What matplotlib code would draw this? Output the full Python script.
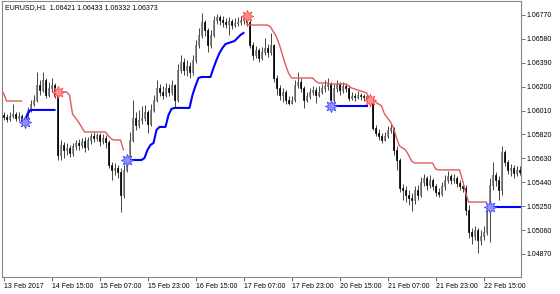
import matplotlib
matplotlib.use('Agg')
import matplotlib.pyplot as plt
import numpy as np

plt.rcParams['font.family'] = ['Liberation Sans', 'DejaVu Sans']

# EURUSD H1 bars, first bar 13 Feb 2017 23:00
first_open = 1.05975
closes = [1.05959, 1.05943, 1.05967, 1.05983, 1.05951, 1.05967, 1.05927, 1.05943, 1.06015, 1.06062,
          1.06094, 1.06214, 1.06174, 1.06253, 1.06134, 1.06190, 1.06214, 1.06134, 1.05657, 1.05737,
          1.05697, 1.05713, 1.05673, 1.05729, 1.05752, 1.05737, 1.05768, 1.05721, 1.05776, 1.05808,
          1.05792, 1.05816, 1.05768, 1.05792, 1.05760, 1.05578, 1.05538, 1.05554, 1.05522, 1.05339,
          1.05538, 1.05617, 1.05776, 1.05951, 1.05896, 1.05935, 1.05951, 1.05999, 1.05903, 1.06015,
          1.06094, 1.06190, 1.06158, 1.06134, 1.06190, 1.06158, 1.06214, 1.06094, 1.06333, 1.06396,
          1.06333, 1.06365, 1.06317, 1.06412, 1.06532, 1.06611, 1.06714, 1.06651, 1.06532, 1.06611,
          1.06730, 1.06754, 1.06730, 1.06714, 1.06698, 1.06722, 1.06690, 1.06706, 1.06714, 1.06730,
          1.06746, 1.06714, 1.06532, 1.06452, 1.06492, 1.06428, 1.06476, 1.06508, 1.06476, 1.06532,
          1.06269, 1.06190, 1.06134, 1.06158, 1.06094, 1.06070, 1.06094, 1.06214, 1.06237, 1.06190,
          1.06094, 1.06126, 1.06158, 1.06174, 1.06134, 1.06158, 1.06190, 1.06206, 1.06221, 1.06094,
          1.06190, 1.06221, 1.06174, 1.06206, 1.06190, 1.06110, 1.06126, 1.06118, 1.06134, 1.06126,
          1.06118, 1.06110, 1.06094, 1.05872, 1.05832, 1.05808, 1.05776, 1.05808, 1.05856, 1.05872,
          1.05697, 1.05617, 1.05395, 1.05379, 1.05339, 1.05315, 1.05299, 1.05379, 1.05339, 1.05442,
          1.05474, 1.05419, 1.05458, 1.05411, 1.05363, 1.05347, 1.05411, 1.05458, 1.05490, 1.05458,
          1.05474, 1.05434, 1.05411, 1.05395, 1.05220, 1.05045, 1.05013, 1.05061, 1.04981, 1.05013,
          1.05045, 1.05220, 1.05419, 1.05498, 1.05458, 1.05379, 1.05681, 1.05601, 1.05538, 1.05554,
          1.05514, 1.05538, 1.05522]
highs = [1.05999, 1.05983, 1.05999, 1.06062, 1.05999, 1.05999, 1.05983, 1.05967, 1.06039, 1.06094,
         1.06134, 1.06317, 1.06253, 1.06317, 1.06269, 1.06237, 1.06269, 1.06229, 1.06158, 1.05776,
         1.05760, 1.05752, 1.05737, 1.05752, 1.05776, 1.05784, 1.05792, 1.05800, 1.05800, 1.05832,
         1.05840, 1.05832, 1.05832, 1.05824, 1.05816, 1.05776, 1.05601, 1.05593, 1.05578, 1.05554,
         1.05578, 1.05657, 1.05840, 1.06094, 1.05999, 1.06015, 1.06047, 1.06055, 1.06015, 1.06062,
         1.06134, 1.06253, 1.06221, 1.06206, 1.06229, 1.06221, 1.06253, 1.06221, 1.06380, 1.06452,
         1.06428, 1.06412, 1.06396, 1.06452, 1.06571, 1.06667, 1.06786, 1.06730, 1.06667, 1.06651,
         1.06762, 1.06778, 1.06770, 1.06762, 1.06746, 1.06754, 1.06738, 1.06746, 1.06754, 1.06762,
         1.06770, 1.06778, 1.06730, 1.06555, 1.06524, 1.06508, 1.06516, 1.06587, 1.06539, 1.06627,
         1.06539, 1.06293, 1.06214, 1.06190, 1.06174, 1.06126, 1.06126, 1.06253, 1.06317, 1.06269,
         1.06206, 1.06158, 1.06190, 1.06206, 1.06198, 1.06206, 1.06221, 1.06253, 1.06269, 1.06237,
         1.06221, 1.06253, 1.06237, 1.06237, 1.06229, 1.06214, 1.06158, 1.06150, 1.06166, 1.06150,
         1.06142, 1.06142, 1.06134, 1.06110, 1.05896, 1.05864, 1.05832, 1.05840, 1.05888, 1.05903,
         1.05880, 1.05729, 1.05633, 1.05426, 1.05411, 1.05379, 1.05355, 1.05411, 1.05419, 1.05482,
         1.05506, 1.05490, 1.05498, 1.05474, 1.05426, 1.05395, 1.05442, 1.05498, 1.05530, 1.05506,
         1.05506, 1.05490, 1.05458, 1.05442, 1.05419, 1.05260, 1.05077, 1.05093, 1.05077, 1.05061,
         1.05093, 1.05260, 1.05474, 1.05601, 1.05522, 1.05490, 1.05729, 1.05697, 1.05617, 1.05585,
         1.05578, 1.05570, 1.05570]
lows = [1.05935, 1.05919, 1.05927, 1.05951, 1.05927, 1.05927, 1.05903, 1.05903, 1.05927, 1.05999,
        1.06047, 1.06078, 1.06134, 1.06158, 1.06110, 1.06118, 1.06158, 1.06110, 1.05617, 1.05617,
        1.05633, 1.05657, 1.05641, 1.05649, 1.05697, 1.05697, 1.05713, 1.05681, 1.05697, 1.05744,
        1.05760, 1.05768, 1.05729, 1.05744, 1.05713, 1.05554, 1.05458, 1.05498, 1.05474, 1.05204,
        1.05315, 1.05522, 1.05593, 1.05760, 1.05856, 1.05872, 1.05903, 1.05927, 1.05832, 1.05888,
        1.05999, 1.06078, 1.06126, 1.06102, 1.06118, 1.06126, 1.06134, 1.06031, 1.06078, 1.06309,
        1.06293, 1.06285, 1.06269, 1.06293, 1.06388, 1.06508, 1.06587, 1.06603, 1.06476, 1.06508,
        1.06595, 1.06698, 1.06690, 1.06675, 1.06667, 1.06611, 1.06659, 1.06675, 1.06683, 1.06690,
        1.06698, 1.06683, 1.06508, 1.06412, 1.06428, 1.06396, 1.06412, 1.06452, 1.06436, 1.06452,
        1.06237, 1.06134, 1.06094, 1.06078, 1.06062, 1.06055, 1.06062, 1.06078, 1.06190, 1.06158,
        1.06031, 1.06078, 1.06102, 1.06134, 1.06070, 1.06118, 1.06142, 1.06158, 1.06174, 1.06062,
        1.06078, 1.06158, 1.06134, 1.06150, 1.06158, 1.06086, 1.06094, 1.06086, 1.06102, 1.06094,
        1.06086, 1.06078, 1.06062, 1.05856, 1.05808, 1.05776, 1.05752, 1.05768, 1.05792, 1.05832,
        1.05657, 1.05538, 1.05363, 1.05299, 1.05283, 1.05260, 1.05212, 1.05267, 1.05299, 1.05323,
        1.05411, 1.05379, 1.05395, 1.05379, 1.05331, 1.05323, 1.05331, 1.05379, 1.05434, 1.05426,
        1.05434, 1.05403, 1.05379, 1.05363, 1.05180, 1.04997, 1.04949, 1.04981, 1.04878, 1.04942,
        1.04981, 1.05021, 1.04965, 1.05379, 1.05411, 1.05299, 1.05339, 1.05570, 1.05506, 1.05490,
        1.05474, 1.05490, 1.05498]

# trailing stop lines: (first bar, values)
red_segments = [
    (0, [1.06150, 1.06086, 1.06086, 1.06086, 1.06086, 1.06086, 1.06086]),
    (18, [1.06158, 1.06158, 1.06158, 1.06158, 1.06134, 1.05983, 1.05951, 1.05919, 1.05880, 1.05840,
          1.05840, 1.05840, 1.05840, 1.05840, 1.05840, 1.05840, 1.05840, 1.05808, 1.05784, 1.05776,
          1.05776, 1.05776, 1.05697]),
    (81, [1.06698, 1.06690, 1.06690, 1.06690, 1.06690, 1.06690, 1.06690, 1.06690, 1.06675, 1.06635,
          1.06595, 1.06532, 1.06452, 1.06373, 1.06309, 1.06269, 1.06269, 1.06269, 1.06269, 1.06269,
          1.06269, 1.06269, 1.06269, 1.06245, 1.06229, 1.06229, 1.06229, 1.06229, 1.06221, 1.06221,
          1.06221, 1.06221, 1.06221, 1.06221, 1.06206, 1.06190, 1.06182, 1.06174, 1.06166, 1.06158,
          1.06150, 1.06110, 1.06094, 1.06078, 1.06062, 1.06047, 1.05983, 1.05951, 1.05919, 1.05872,
          1.05792, 1.05729, 1.05713, 1.05697, 1.05657, 1.05609, 1.05593, 1.05593, 1.05593, 1.05593,
          1.05593, 1.05593, 1.05593, 1.05546, 1.05538, 1.05538, 1.05538, 1.05538, 1.05538, 1.05538,
          1.05538, 1.05538, 1.05458, 1.05363, 1.05283, 1.05283, 1.05283, 1.05283, 1.05283, 1.05283,
          1.05283]),
]
blue_segments = [
    (7, [1.05927, 1.05983, 1.06015, 1.06015, 1.06015, 1.06015, 1.06015, 1.06015, 1.06015, 1.06015,
         1.06015]),
    (41, [1.05617, 1.05617, 1.05617, 1.05617, 1.05617, 1.05617, 1.05633, 1.05697, 1.05737, 1.05752,
          1.05856, 1.05880, 1.05880, 1.05880, 1.05975, 1.06023, 1.06031, 1.06031, 1.06031, 1.06031,
          1.06031, 1.06031, 1.06134, 1.06206, 1.06269, 1.06277, 1.06277, 1.06277, 1.06277, 1.06349,
          1.06412, 1.06468, 1.06508, 1.06539, 1.06547, 1.06555, 1.06563, 1.06587, 1.06611, 1.06627]),
    (109, [1.06047, 1.06047, 1.06047, 1.06047, 1.06047, 1.06047, 1.06047, 1.06047, 1.06047, 1.06047,
           1.06047, 1.06047, 1.06047]),
    (162, [1.05244, 1.05244, 1.05244, 1.05244, 1.05244, 1.05244, 1.05244, 1.05244, 1.05244, 1.05244,
           1.05244]),
]

buy_bars = [7, 41, 109, 162]
buy_prices = [1.05919, 1.05617, 1.06047, 1.05244]
sell_bars = [18, 81, 122]
sell_prices = [1.06158, 1.06762, 1.06094]

time_labels = ['13 Feb 2017', '14 Feb 15:00', '15 Feb 07:00', '15 Feb 23:00', '16 Feb 15:00',
               '17 Feb 07:00', '17 Feb 23:00', '20 Feb 15:00', '21 Feb 07:00', '21 Feb 23:00',
               '22 Feb 15:00']
price_ticks = [1.04870, 1.05060, 1.05250, 1.05440, 1.05630, 1.05820, 1.06010, 1.06200, 1.06390,
               1.06580, 1.06770]

header = 'EURUSD,H1  1.06421 1.06433 1.06332 1.06373'

closes = np.array(closes)
opens = np.concatenate([[first_open], closes[:-1]])
highs = np.array(highs)
lows = np.array(lows)
n = len(closes)
x = np.arange(n)

fig = plt.figure(figsize=(5.6, 2.94), dpi=100)
ax = fig.add_axes([2 / 560, 17 / 294, 519 / 560, 276 / 294])

# wicks then bodies (bull = hollow, bear = filled)
ax.vlines(x, lows, highs, color='#111111', lw=0.55, zorder=2)
up = closes >= opens
ax.bar(x[up], (closes - opens)[up], bottom=opens[up], width=0.62,
       color='white', edgecolor='#333333', lw=0.4, zorder=3)
ax.bar(x[~up], (closes - opens)[~up], bottom=opens[~up], width=0.62,
       color='black', edgecolor='black', lw=0.5, zorder=3)

for start, vals in red_segments:
    ax.plot(np.arange(start, start + len(vals)), vals, color='#dd5c5c', lw=1.0, zorder=4)
for start, vals in blue_segments:
    ax.plot(np.arange(start, start + len(vals)), vals, color='#0000ff', lw=1.5, zorder=4)

ax.plot(buy_bars, buy_prices, ls='none', marker=(8, 1, 0), ms=9, mfc='#8f8fff',
        mec='#3a3aff', mew=0.5, zorder=5)
ax.plot(sell_bars, sell_prices, ls='none', marker=(8, 1, 0), ms=9, mfc='#ff8f8f',
        mec='#ff3a3a', mew=0.5, zorder=5)

ax.set_xlim(-0.5, n - 0.5)
ax.set_ylim(1.04687, 1.06881)

ax.set_xticks(np.arange(0, n, 16)[:len(time_labels)])
ax.set_xticklabels(time_labels, ha='left', fontsize=5)
ax.set_yticks(price_ticks)
ax.set_yticklabels(['%.5f' % p for p in price_ticks], fontsize=5)
ax.yaxis.tick_right()
ax.tick_params(axis='x', direction='out', length=3, width=0.6, color='#555555', pad=1)
ax.tick_params(axis='y', direction='out', length=3, width=0.6, color='#555555', pad=1)

for s in ax.spines.values():
    s.set_color('#888888')
    s.set_linewidth(0.8)

ax.text(0.006, 0.99, header, transform=ax.transAxes, va='top', ha='left', fontsize=5)

fig.savefig('out.png', dpi=100)
